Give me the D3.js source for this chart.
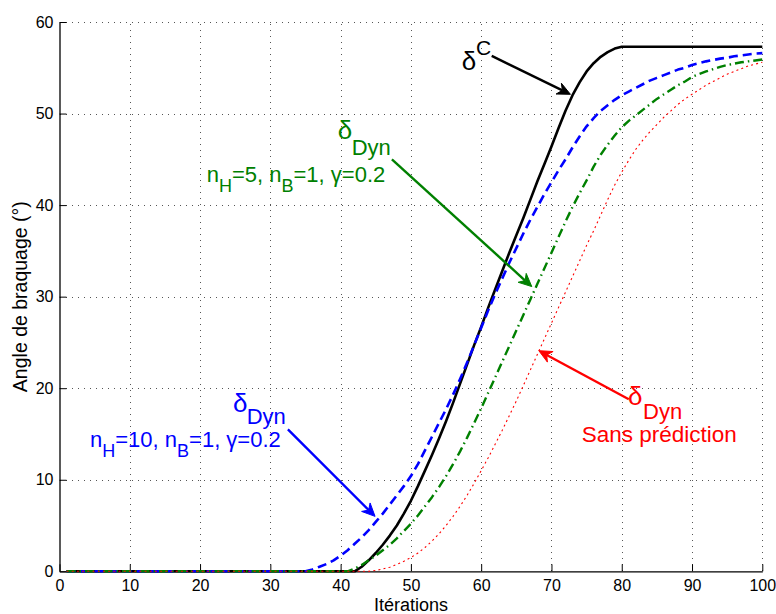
<!DOCTYPE html>
<html>
<head>
<meta charset="utf-8">
<script src="https://cdn.jsdelivr.net/npm/d3@7"></script>
<style>
  html, body { margin: 0; padding: 0; background: #fff; }
  svg { display: block; font-family: "Liberation Sans", Arial, Helvetica, sans-serif; }
</style>
</head>
<body>
<div id="chart"></div>
<script>
// ---------------- data ----------------
const iterations = d3.range(1, 101);

const zeros = n => new Array(n).fill(0);

// delta C (black, solid)
const deltaC = zeros(42).concat([
  0.5, 1.2, 2.0, 2.9, 3.9, 5.0, 6.3, 7.7, 9.3, 11.0,          // 43-52
  12.7, 14.5, 16.4, 18.4, 20.5, 22.6, 24.7, 26.7, 28.8, 30.8, // 53-62
  32.8, 34.8, 36.7, 38.6, 40.6, 42.6, 44.5, 46.4, 48.4, 50.3, // 63-72
  52.0, 53.4, 54.6, 55.5, 56.2, 56.7, 57.1, 57.3,             // 73-80
  57.3, 57.3, 57.3, 57.3, 57.3, 57.3, 57.3, 57.3, 57.3, 57.3, // 81-90
  57.3, 57.3, 57.3, 57.3, 57.3, 57.3, 57.3, 57.3, 57.3, 57.3  // 91-100
]);

// delta Dyn, nH=10 (blue, dashed)
const deltaDyn10 = zeros(35).concat([
  0.2, 0.5, 0.8, 1.2, 1.7, 2.3, 3.0, 3.7, 4.5, 5.4,           // 36-45
  6.3, 7.3, 8.3, 9.3, 10.4, 11.7, 13.2, 14.7, 16.2, 17.7,     // 46-55
  19.3, 21.0, 22.8, 24.7, 26.6, 28.5, 30.3, 32.0, 33.7, 35.3, // 56-65
  36.9, 38.4, 39.8, 41.2, 42.5, 43.8, 45.0, 46.3, 47.5, 48.6, // 66-75
  49.5, 50.3, 50.9, 51.5, 52.0, 52.4, 52.8, 53.2, 53.6, 53.9, // 76-85
  54.2, 54.5, 54.8, 55.0, 55.3, 55.5, 55.7, 55.85, 56.0, 56.1,// 86-95
  56.25, 56.35, 56.45, 56.55, 56.6                            // 96-100
]);

// delta Dyn, nH=5 (green, dash-dot)
const deltaDyn5 = zeros(41).concat([
  0.3, 0.7, 1.2, 1.7, 2.3, 2.9, 3.6, 4.4, 5.2,                // 42-50
  6.1, 7.1, 8.1, 9.2, 10.4, 11.7, 13.1, 14.6, 16.2, 17.8,     // 51-60
  19.5, 21.2, 22.9, 24.6, 26.3, 28.0, 29.7, 31.4, 33.1, 34.8, // 61-70
  36.5, 38.2, 39.8, 41.3, 42.7, 44.2, 45.5, 46.6, 47.6, 48.5, // 71-80
  49.2, 49.8, 50.4, 51.0, 51.6, 52.1, 52.6, 53.1, 53.5, 54.0, // 81-90
  54.3, 54.6, 54.85, 55.1, 55.3, 55.45, 55.6, 55.7, 55.8, 55.9// 91-100
]);

// delta Dyn, without prediction (red, dotted)
const deltaDynNoPred = zeros(44).concat([
  0.1, 0.25, 0.45, 0.75, 1.1, 1.5,                            // 45-50
  2.0, 2.6, 3.3, 4.1, 5.0, 6.0, 7.1, 8.3, 9.6, 11.0,          // 51-60
  12.4, 13.9, 15.4, 17.0, 18.6, 20.3, 22.0, 23.7, 25.4, 27.1, // 61-70
  28.8, 30.5, 32.2, 33.9, 35.6, 37.2, 38.9, 40.6, 42.2, 43.6, // 71-80
  44.9, 46.1, 47.1, 48.0, 48.8, 49.6, 50.3, 51.0, 51.6, 52.1, // 81-90
  52.6, 53.1, 53.5, 53.9, 54.3, 54.6, 54.9, 55.2, 55.4, 55.6  // 91-100
]);

const xTicks = [0, 10, 20, 30, 40, 50, 60, 70, 80, 90, 100];
const yTicks = [0, 10, 20, 30, 40, 50, 60];
const xLabel = "Itérations";
const yLabel = "Angle de braquage (°)";

// ---------------- layout ----------------
const W = 776, H = 614;
const mLeft = 59.5, mRight = 762.3, mTop = 22, mBottom = 571.3;

const svg = d3.select("#chart").append("svg")
  .attr("width", W).attr("height", H);

const x = d3.scaleLinear().domain([0, 100]).range([mLeft, mRight]);
const y = d3.scaleLinear().domain([0, 60]).range([mBottom, mTop]);

// grid
const grid = svg.append("g").attr("stroke", "#555").attr("stroke-width", 1)
  .attr("stroke-dasharray", "1,5").attr("shape-rendering", "crispEdges");
xTicks.filter(t => t > 0).forEach(t => {
  grid.append("line").attr("x1", Math.round(x(t)) + 0.5).attr("x2", Math.round(x(t)) + 0.5)
    .attr("y1", y(0)).attr("y2", y(60));
});
yTicks.filter(t => t > 0).forEach(t => {
  grid.append("line").attr("y1", Math.round(y(t)) + 0.5).attr("y2", Math.round(y(t)) + 0.5)
    .attr("x1", x(0)).attr("x2", x(100));
});

// axes
const xAxis = d3.axisBottom(x).tickValues(xTicks).tickSizeInner(-7).tickSizeOuter(0).tickPadding(8);
const yAxis = d3.axisLeft(y).tickValues(yTicks).tickSizeInner(-7).tickSizeOuter(0).tickPadding(6);

const gx = svg.append("g").attr("transform", `translate(0,${mBottom})`).call(xAxis);
const gy = svg.append("g").attr("transform", `translate(${mLeft},0)`).call(yAxis);
[gx, gy].forEach(g => {
  g.select(".domain").attr("stroke", "#000").attr("stroke-width", 1.3);
  g.selectAll(".tick line").attr("stroke", "#000").attr("stroke-width", 1);
  g.selectAll(".tick text").attr("fill", "#000").attr("font-size", 16)
    .attr("font-family", "'Liberation Sans', Arial, sans-serif");
});

svg.append("text").attr("x", (mLeft + mRight) / 2).attr("y", 610.5)
  .attr("text-anchor", "middle").attr("font-size", 18).text(xLabel);
svg.append("text").attr("transform", `translate(27,${(mTop + mBottom) / 2}) rotate(-90)`)
  .attr("text-anchor", "middle").attr("font-size", 19.5).text(yLabel);

// series
const line = d3.line().x((d, i) => x(iterations[i])).y(d => y(d));
const series = [
  { data: deltaC, color: "#000", width: 2.6, dash: null },
  { data: deltaDyn10, color: "#0000ff", width: 2.6, dash: "9,5" },
  { data: deltaDyn5, color: "#008000", width: 2.4, dash: "9,4,1.5,4" },
  { data: deltaDynNoPred, color: "#ff0000", width: 1.1, dash: "2,3.2" }
];
series.forEach(s => {
  svg.append("path").datum(s.data).attr("d", line)
    .attr("fill", "none").attr("stroke", s.color).attr("stroke-width", s.width)
    .attr("stroke-dasharray", s.dash).attr("stroke-linejoin", "round");
});

// annotations (arrows in data coordinates)
const arrows = [
  { from: [61.5, 56.3], to: [72.7, 52.1], color: "#000" },
  { from: [47.3, 45.0], to: [67.2, 31.1], color: "#008000" },
  { from: [32.5, 15.5], to: [44.9, 6.0], color: "#0000ff" },
  { from: [81.0, 18.8], to: [68.2, 24.1], color: "#ff0000" }
];
arrows.forEach(a => {
  const x1 = x(a.from[0]), y1 = y(a.from[1]), x2 = x(a.to[0]), y2 = y(a.to[1]);
  const ang = Math.atan2(y2 - y1, x2 - x1);
  const L = 13, Wd = 6, back = 9;
  const ux = Math.cos(ang), uy = Math.sin(ang);
  const px = -uy, py = ux;
  svg.append("line").attr("x1", x1).attr("y1", y1)
    .attr("x2", x2 - ux * back).attr("y2", y2 - uy * back)
    .attr("stroke", a.color).attr("stroke-width", 2.4);
  const pts = [
    [x2, y2],
    [x2 - ux * L + px * Wd, y2 - uy * L + py * Wd],
    [x2 - ux * back, y2 - uy * back],
    [x2 - ux * L - px * Wd, y2 - uy * L - py * Wd]
  ];
  svg.append("path").attr("d", "M" + pts.map(p => p.join(",")).join("L") + "Z")
    .attr("fill", a.color).attr("stroke", a.color).attr("stroke-width", 1).attr("stroke-linejoin", "miter");
});

function label(px, py, size, color, text) {
  return svg.append("text").attr("x", px).attr("y", py).attr("font-size", size)
    .attr("fill", color).text(text);
}
function params(px, py, color, nh) {
  const t = svg.append("text").attr("x", px).attr("y", py).attr("font-size", 22).attr("fill", color);
  t.append("tspan").text("n");
  t.append("tspan").attr("dy", 10).attr("font-size", 18).text("H");
  t.append("tspan").attr("dy", -10).text("=" + nh + ", n");
  t.append("tspan").attr("dy", 10).attr("font-size", 18).text("B");
  t.append("tspan").attr("dy", -10).text("=1, γ=0.2");
}

// delta C
label(461.7, 70, 26, "#000", "δ");
label(476, 55, 21, "#000", "C");
// green
label(337.7, 139, 26, "#008000", "δ");
label(351.7, 155, 22, "#008000", "Dyn");
params(206.7, 181.5, "#008000", 5);
// blue
label(233, 411.7, 26, "#0000ff", "δ");
label(246.7, 424, 22, "#0000ff", "Dyn");
params(90, 447, "#0000ff", 10);
// red
label(628, 405, 26, "#ff0000", "δ");
label(643, 418.5, 22, "#ff0000", "Dyn");
label(581.7, 441.5, 22.5, "#ff0000", "Sans prédiction");
</script>
</body>
</html>
